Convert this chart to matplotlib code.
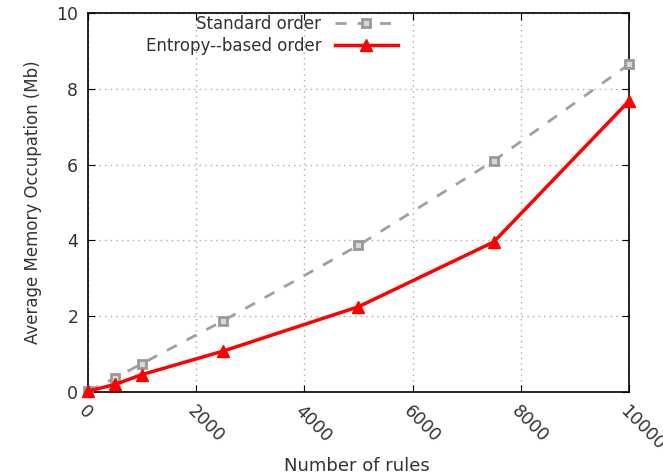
import matplotlib
matplotlib.use('Agg')
import matplotlib.pyplot as plt

rules = [0, 500, 1000, 2500, 5000, 7500, 10000]
standard_order = [0.02, 0.37, 0.75, 1.88, 3.87, 6.1, 8.65]
entropy_order = [0.02, 0.2, 0.46, 1.08, 2.25, 3.96, 7.68]

x_ticks = [0, 2000, 4000, 6000, 8000, 10000]
y_ticks = [0, 2, 4, 6, 8, 10]

fig = plt.figure(figsize=(6.63, 4.76), dpi=100)
ax = fig.add_axes([0.1327, 0.1765, 0.816, 0.796])

ax.plot(rules, standard_order, color='#a0a0a0', linestyle=(0, (4, 4)), linewidth=2,
        marker='s', markersize=6, markerfacecolor='#d8d8d8', markeredgecolor='#999999',
        markeredgewidth=2, label='Standard order', clip_on=False, zorder=3)
ax.plot(rules, entropy_order, color='red', linestyle='-', linewidth=2.5,
        marker='^', markersize=8, markerfacecolor='red', markeredgecolor='red',
        label='Entropy--based order', clip_on=False, zorder=4)

ax.set_xlim(0, 10000)
ax.set_ylim(0, 10)
ax.set_xticks(x_ticks)
ax.set_yticks(y_ticks)
ax.set_xticklabels([str(t) for t in x_ticks], rotation=-45, ha='left', va='top',
                   rotation_mode='anchor', fontsize=12.5, color='#333333')
ax.set_yticklabels([str(t) for t in y_ticks], fontsize=12.5, color='#333333')
ax.tick_params(direction='in', length=5, pad=7, top=True, right=True, labeltop=False, labelright=False)
ax.grid(True, linestyle=(0, (1, 3)), color='#aaaaaa', linewidth=1)

fig.text(0.539, 0.003, 'Number of rules', fontsize=13, color='#333333', ha='center', va='bottom')
ax.set_ylabel('Average Memory Occupation (Mb)', fontsize=12, color='#333333', labelpad=10)

for spine in ax.spines.values():
    spine.set_linewidth(1.2)

leg = ax.legend(loc='upper center', bbox_to_anchor=(0.34, 1.035), frameon=False,
                markerfirst=False, fontsize=12, handlelength=3.8, labelspacing=0.25)
for t in leg.get_texts():
    t.set_ha('right')
    t.set_color('#333333')

fig.savefig('out.png', dpi=100)
